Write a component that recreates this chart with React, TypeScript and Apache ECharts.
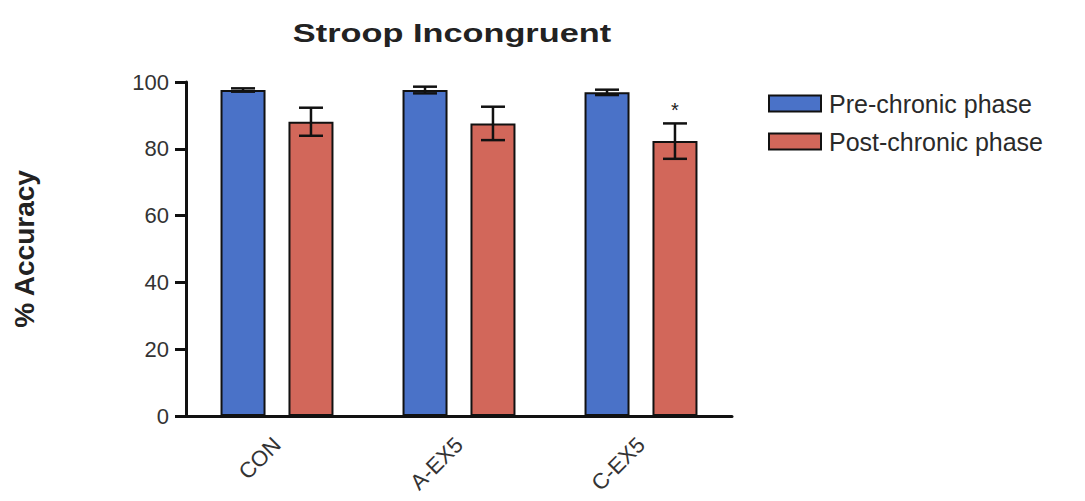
import React, { useEffect, useRef } from "react";
import * as echarts from "echarts";

const groups = ["CON", "A-EX5", "C-EX5"];
const preMean = [97.6, 97.6, 96.9];
const preErr = [0.5, 1.0, 0.8];
const postMean = [88.1, 87.6, 82.3];
const postErr = [4.2, 5.0, 5.3];
const postMarks = ["", "", "*"];
const yTicks = [0, 20, 40, 60, 80, 100];

const FONT = "'Liberation Sans', Arial, Helvetica, sans-serif";
const BAR_W = 45;
const BAR_GAP = 0.51;
const SHIFT = (BAR_W * (1 + BAR_GAP)) / 2;

function errorSeries(name: string, means: number[], errs: number[], dir: number, marks?: string[]) {
  return {
    type: "custom",
    name: name + " SEM",
    z: 10,
    silent: true,
    data: means.map((m, i) => [i, m, errs[i]]),
    renderItem: (params: any, api: any) => {
      const i = api.value(0);
      const m = api.value(1);
      const e = api.value(2);
      const top = api.coord([i, m + e]);
      const bot = api.coord([i, m - e]);
      const x = top[0] + dir * SHIFT;
      const cap = 12;
      const children: any[] = [
        { type: "line", shape: { x1: x, y1: top[1], x2: x, y2: bot[1] }, style: { stroke: "#111", lineWidth: 2.5 } },
        { type: "line", shape: { x1: x - cap, y1: top[1], x2: x + cap, y2: top[1] }, style: { stroke: "#111", lineWidth: 2.5 } },
        { type: "line", shape: { x1: x - cap, y1: bot[1], x2: x + cap, y2: bot[1] }, style: { stroke: "#111", lineWidth: 2.5 } },
      ];
      if (marks && marks[i]) {
        children.push({
          type: "text",
          style: { text: marks[i], x, y: top[1] - 3, align: "center", verticalAlign: "bottom", fontSize: 20, fill: "#222", fontFamily: FONT },
        });
      }
      return { type: "group", children };
    },
  };
}

export default function App() {
  const ref = useRef<HTMLDivElement>(null);
  useEffect(() => {
    if (!ref.current) return;
    const chart = echarts.init(ref.current, undefined, { renderer: "svg" });
    chart.setOption({
      animation: false,
      backgroundColor: "#ffffff",
      textStyle: { fontFamily: FONT },
      graphic: [
        {
          type: "text",
          x: 452,
          y: 33,
          scaleX: 1.32,
          style: {
            text: "Stroop Incongruent",
            align: "center",
            verticalAlign: "middle",
            fontSize: 26,
            fontWeight: "bold",
            fill: "#222",
            fontFamily: FONT,
          },
        },
      ],
      legend: {
        orient: "vertical",
        left: 763,
        top: 86,
        icon: "rect",
        itemWidth: 52,
        itemHeight: 16,
        itemGap: 13,
        data: ["Pre-chronic phase", "Post-chronic phase"],
        itemStyle: { borderColor: "#111", borderWidth: 2 },
        textStyle: { fontSize: 25, color: "#2a2a2a", fontFamily: FONT, padding: [0, 0, 0, 3] },
      },
      grid: { left: 186, right: 353, top: 82, bottom: 85 },
      xAxis: {
        type: "category",
        data: groups,
        axisLine: { lineStyle: { color: "#111", width: 3 } },
        axisTick: { alignWithLabel: true, length: 7, lineStyle: { color: "#111", width: 3 } },
        axisLabel: { rotate: 45, fontSize: 22, color: "#333", margin: 25, fontFamily: FONT },
      },
      yAxis: {
        type: "value",
        min: 0,
        max: 100,
        interval: 20,
        name: "% Accuracy",
        nameLocation: "middle",
        nameGap: 148,
        nameTextStyle: { fontSize: 28, fontWeight: "bold", color: "#222", fontFamily: FONT },
        splitLine: { show: false },
        axisLine: { show: true, lineStyle: { color: "#111", width: 3 } },
        axisTick: { show: true, length: 11, lineStyle: { color: "#111", width: 3 } },
        axisLabel: {
          fontSize: 22,
          color: "#333",
          margin: 17,
          fontFamily: FONT,
          formatter: (v: number) => (yTicks.includes(v) ? String(v) : ""),
        },
      },
      series: [
        {
          type: "bar",
          name: "Pre-chronic phase",
          data: preMean,
          barWidth: BAR_W,
          barGap: BAR_GAP * 100 + "%",
          itemStyle: { color: "#4a72c8", borderColor: "#111", borderWidth: 2 },
        },
        {
          type: "bar",
          name: "Post-chronic phase",
          data: postMean,
          barWidth: BAR_W,
          barGap: BAR_GAP * 100 + "%",
          itemStyle: { color: "#d2675a", borderColor: "#111", borderWidth: 2 },
        },
        errorSeries("Pre-chronic phase", preMean, preErr, -1),
        errorSeries("Post-chronic phase", postMean, postErr, 1, postMarks),
      ],
    });
    return () => chart.dispose();
  }, []);
  return <div ref={ref} style={{ position: "fixed", left: 0, top: 0, width: 1085, height: 501 }} />;
}
